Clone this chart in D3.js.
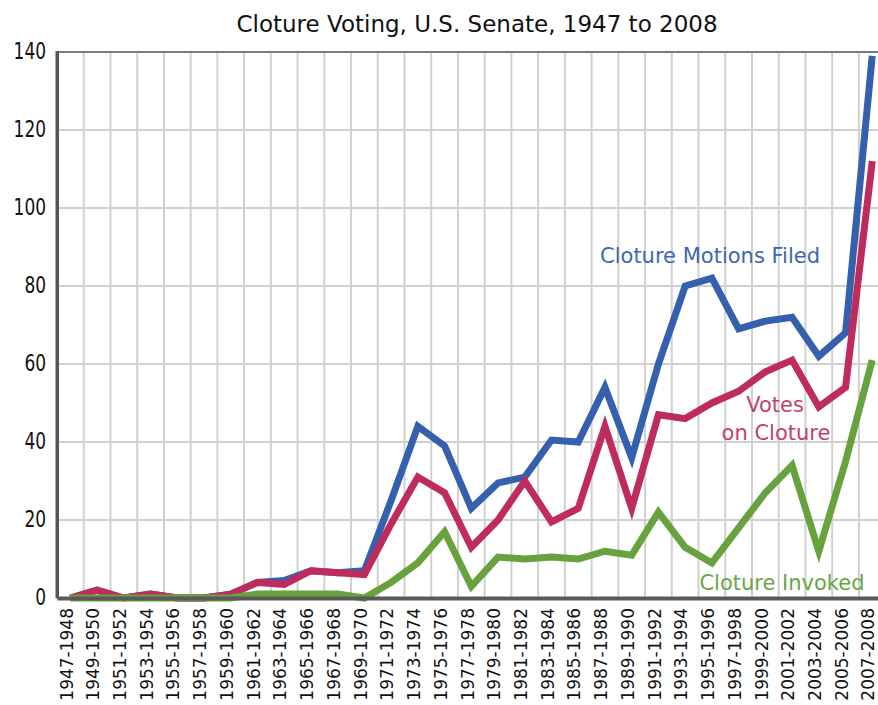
<!DOCTYPE html>
<html>
<head>
<meta charset="utf-8">
<script src="https://cdn.jsdelivr.net/npm/d3@7"></script>
<style>
  body { margin: 0; background: #fff; }
  text { font-family: "DejaVu Sans", sans-serif; }
</style>
</head>
<body>
<div class="container"></div>
<script>
//data
const congresses = ["1947-1948","1949-1950","1951-1952","1953-1954","1955-1956","1957-1958",
  "1959-1960","1961-1962","1963-1964","1965-1966","1967-1968","1969-1970","1971-1972",
  "1973-1974","1975-1976","1977-1978","1979-1980","1981-1982","1983-1984","1985-1986",
  "1987-1988","1989-1990","1991-1992","1993-1994","1995-1996","1997-1998","1999-2000",
  "2001-2002","2003-2004","2005-2006","2007-2008"];
const motionsFiled = [0,2,0,1,0,0,1,4,4.5,7,6.5,7,25,44,39,23,29.5,31,40.5,40,54,36,60,80,82,69,71,72,62,68,139];
const votesOnCloture = [0,2,0,1,0,0,1,4,3.5,7,6.5,6,19,31,27,13,20,30,19.5,23,44,23,47,46,50,53,58,61,49,54,112];
const clotureInvoked = [0,0,0,0,0,0,0,1,1,1,1,0,4,9,17,3,10.5,10,10.5,10,12,11,22,13,9,18,27,34,12,35,61];
const yTicks = [0,20,40,60,80,100,120,140];

const width = 878, height = 705;
const margin = {top: 52, left: 57, bottom: 107};
const plotBottom = height - margin.bottom;
const step = 26.73;

const svg = d3.select(".container").append("svg")
    .attr("width", width)
    .attr("height", height);

//scales
const x = d3.scalePoint()
    .domain(congresses)
    .range([margin.left, margin.left + congresses.length * step])
    .padding(0.5);

const y = d3.scaleLinear()
    .domain([0, 140])
    .range([plotBottom, margin.top]);

//grid
const grid = svg.append("g");
grid.selectAll(".vgrid")
    .data(congresses.slice(1))
    .enter()
    .append("line")
    .attr("x1", d => x(d) - step / 2)
    .attr("x2", d => x(d) - step / 2)
    .attr("y1", margin.top)
    .attr("y2", plotBottom)
    .attr("stroke", "#d0d0d0")
    .attr("stroke-width", 2);

grid.selectAll(".hgrid")
    .data(yTicks.filter(d => d > 0 && d < 140))
    .enter()
    .append("line")
    .attr("x1", margin.left)
    .attr("x2", width)
    .attr("y1", d => y(d))
    .attr("y2", d => y(d))
    .attr("stroke", "#d0d0d0")
    .attr("stroke-width", 2);

//frame
svg.append("line")
    .attr("x1", margin.left).attr("x2", width)
    .attr("y1", y(140)).attr("y2", y(140))
    .attr("stroke", "#7a7a7a").attr("stroke-width", 2);

//y axis
const yAxis = d3.axisLeft(y).tickValues(yTicks).tickSize(0).tickPadding(11);
const yAxisGroup = svg.append("g")
    .attr("transform", `translate(${margin.left}, 0)`)
    .call(yAxis);
yAxisGroup.select(".domain").attr("stroke", "#555").attr("stroke-width", 3);
yAxisGroup.selectAll("text")
    .attr("font-size", 17)
    .attr("fill", "#111")
    .attr("dy", "0.28em")
    .attr("transform", "scale(1,1.3)")
    .style("font-family", "'DejaVu Sans', sans-serif");

//lines
const line = d3.line()
    .x((d, i) => x(congresses[i]))
    .y(d => y(d));

const series = [
  {values: motionsFiled, color: "#3560ad"},
  {values: votesOnCloture, color: "#bf2a5f"},
  {values: clotureInvoked, color: "#67a23e"}
];

svg.append("g").selectAll("path")
    .data(series)
    .enter()
    .append("path")
    .attr("d", d => line(d.values))
    .attr("fill", "none")
    .attr("stroke", d => d.color)
    .attr("stroke-width", 7)
    .attr("stroke-linejoin", "miter");

//x axis
const xAxis = d3.axisBottom(x).tickSize(0).tickPadding(0);
const xAxisGroup = svg.append("g")
    .attr("transform", `translate(0, ${plotBottom})`)
    .call(xAxis);
xAxisGroup.select(".domain").attr("stroke", "#5a5a5a").attr("stroke-width", 4);
xAxisGroup.selectAll("text")
    .attr("font-size", 17)
    .attr("fill", "#111")
    .attr("text-anchor", "end")
    .attr("transform", "rotate(-90)")
    .attr("x", -10)
    .attr("y", 0)
    .attr("dy", "0.1em")
    .style("font-family", "'DejaVu Sans', sans-serif");

//left axis drawn again over the lines
svg.append("line")
    .attr("x1", margin.left).attr("x2", margin.left)
    .attr("y1", y(140) - 1).attr("y2", plotBottom)
    .attr("stroke", "#555").attr("stroke-width", 3);

//title
svg.append("text")
    .attr("x", 477)
    .attr("y", 32)
    .attr("text-anchor", "middle")
    .attr("font-size", 23)
    .attr("fill", "#111")
    .text("Cloture Voting, U.S. Senate, 1947 to 2008");

//series labels
svg.append("text")
    .attr("x", 710).attr("y", 263)
    .attr("text-anchor", "middle")
    .attr("font-size", 21)
    .attr("fill", "#3d66b3")
    .text("Cloture Motions Filed");

svg.append("text")
    .attr("x", 775).attr("y", 412)
    .attr("text-anchor", "middle")
    .attr("font-size", 21)
    .attr("fill", "#c4406f")
    .text("Votes");

svg.append("text")
    .attr("x", 776).attr("y", 440)
    .attr("text-anchor", "middle")
    .attr("font-size", 21)
    .attr("fill", "#c4406f")
    .text("on Cloture");

svg.append("text")
    .attr("x", 782).attr("y", 590)
    .attr("text-anchor", "middle")
    .attr("font-size", 21)
    .attr("fill", "#6aa546")
    .text("Cloture Invoked");
</script>
</body>
</html>
